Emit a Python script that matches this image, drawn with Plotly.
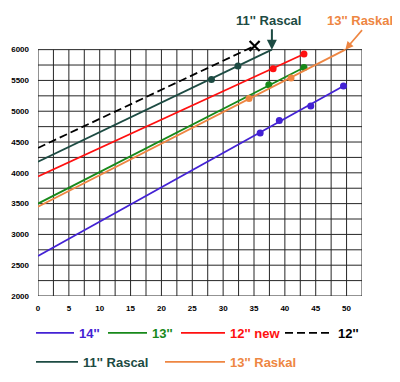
import plotly.graph_objects as go

# ---- data ----
series_names = ["14''", "13''", "12'' new", "12''", "11'' Rascal", "13'' Raskal"]

s14_line_x = [0, 49.5]
s14_line_y = [2650, 5410]
s14_pts_x = [36.0, 39.1, 44.2, 49.5]
s14_pts_y = [4645, 4850, 5085, 5410]

s13_line_x = [0, 43.1]
s13_line_y = [3500, 5710]
s13_pts_x = [37.4, 43.1]
s13_pts_y = [5430, 5710]

s12new_line_x = [0, 43.1]
s12new_line_y = [3940, 5930]
s12new_pts_x = [38.1, 43.1]
s12new_pts_y = [5690, 5930]

s12_line_x = [0, 35.1]
s12_line_y = [4405, 6060]
s12_pts_x = [35.1]
s12_pts_y = [6060]

s11r_line_x = [0, 37.9]
s11r_line_y = [4180, 6000]
s11r_pts_x = [28.1, 32.4]
s11r_pts_y = [5515, 5735]

s13r_line_x = [0, 49.8]
s13r_line_y = [3450, 6000]
s13r_pts_x = [34.2, 41.0]
s13r_pts_y = [5205, 5540]

x_tick_vals = [0, 5, 10, 15, 20, 25, 30, 35, 40, 45, 50]
x_tick_text = ["0", "5", "10", "15", "20", "25", "30", "35", "40", "45", "50"]
y_tick_vals = [2000, 2500, 3000, 3500, 4000, 4500, 5000, 5500, 6000]
y_tick_text = ["2000", "2500", "3000", "3500", "4000", "4500", "5000", "5500", "6000"]

# ---- styles ----
C14 = "#4322d4"
C13 = "#17891a"
C12N = "#ff1010"
C12 = "#000000"
C11R = "#1d4b43"
C13R = "#ee8642"
FONT = "Arial, Liberation Sans, sans-serif"

W, H = 384, 366
X_MIN, X_MAX, X_STEP = 0, 52.5, 2.5
Y_MIN, Y_MAX, Y_STEP = 2000, 6000, 250

fig = go.Figure()

def colored(name, color):
    return f"<span style='color:{color}'>{name}</span>"

def add_series(lx, ly, px, py, name, color, legend, dash="solid", symbol="circle", msize=7):
    fig.add_trace(go.Scatter(x=lx, y=ly, mode="lines", name=colored(name, color),
                             line=dict(color=color, width=1.8, dash=dash),
                             legend=legend, hoverinfo="skip"))
    if symbol == "circle":
        mk = dict(color=color, size=msize, symbol=symbol)
    else:
        mk = dict(color=color, size=msize, symbol=symbol, line=dict(color=color, width=2.2))
    fig.add_trace(go.Scatter(x=px, y=py, mode="markers", showlegend=False,
                             marker=mk, cliponaxis=False, hoverinfo="skip"))

add_series(s14_line_x, s14_line_y, s14_pts_x, s14_pts_y, series_names[0], C14, "legend")
add_series(s13_line_x, s13_line_y, s13_pts_x, s13_pts_y, series_names[1], C13, "legend2")
add_series(s12new_line_x, s12new_line_y, s12new_pts_x, s12new_pts_y, series_names[2], C12N, "legend3")
add_series(s12_line_x, s12_line_y, s12_pts_x, s12_pts_y, series_names[3], C12, "legend4",
           dash="8px,4px", symbol="x-thin", msize=10)
add_series(s11r_line_x, s11r_line_y, s11r_pts_x, s11r_pts_y, series_names[4], C11R, "legend5")
add_series(s13r_line_x, s13r_line_y, s13r_pts_x, s13r_pts_y, series_names[5], C13R, "legend6")

# grid as shapes (box only up to 6000)
shapes = []
n_x = int(round((X_MAX - X_MIN) / X_STEP))
for i in range(n_x + 1):
    xv = X_MIN + i * X_STEP
    shapes.append(dict(type="line", xref="x", yref="y", x0=xv, x1=xv, y0=Y_MIN, y1=Y_MAX,
                       line=dict(color="#262626", width=1), layer="below"))
n_y = int(round((Y_MAX - Y_MIN) / Y_STEP))
for j in range(n_y + 1):
    yv = Y_MIN + j * Y_STEP
    shapes.append(dict(type="line", xref="x", yref="y", x0=X_MIN, x1=X_MAX, y0=yv, y1=yv,
                       line=dict(color="#262626", width=1), layer="below"))

annotations = [
    dict(xref="paper", yref="paper", x=0.71, y=1.015, text="11'' Rascal", showarrow=False,
         font=dict(family=FONT, size=13, color=C11R, weight="bold"), xanchor="center", yanchor="middle"),
    dict(xref="paper", yref="paper", x=0.995, y=1.015, text="13'' Raskal", showarrow=False,
         font=dict(family=FONT, size=13, color=C13R, weight="bold"), xanchor="center", yanchor="middle"),
    dict(xref="x", yref="y", x=s11r_line_x[-1], y=s11r_line_y[-1], text="", showarrow=True,
         ax=0, ay=-22, arrowhead=2, arrowsize=1, arrowwidth=2, arrowcolor=C11R),
    dict(xref="x", yref="y", x=s13r_line_x[-1], y=s13r_line_y[-1], text="", showarrow=True,
         ax=18, ay=-21, arrowhead=2, arrowsize=1, arrowwidth=1.6, arrowcolor=C13R),
]

def leg(px, py, iw):
    return dict(orientation="h", xref="container", yref="container",
                x=px / W, y=1 - py / H, xanchor="left", yanchor="top",
                itemwidth=iw, bgcolor="rgba(0,0,0,0)",
                font=dict(family=FONT, size=13, weight="bold"))

ROW1, ROW2 = 310, 339

fig.update_layout(
    width=W, height=H,
    margin=dict(l=30, r=30, t=17, b=78),
    paper_bgcolor="white", plot_bgcolor="white",
    font=dict(family=FONT, color="black"),
    shapes=shapes, annotations=annotations,
    xaxis=dict(range=[X_MIN, X_MAX], tickvals=x_tick_vals, ticktext=x_tick_text,
               showgrid=False, zeroline=False, showline=False, ticks="", automargin=False,
               tickfont=dict(family=FONT, size=8, color="black", weight="bold"),
               ticklabelstandoff=6),
    yaxis=dict(range=[2000, 6400], tickvals=y_tick_vals, ticktext=y_tick_text,
               showgrid=False, zeroline=False, showline=False, ticks="", automargin=False,
               tickfont=dict(family=FONT, size=8, color="black", weight="bold"),
               ticklabelstandoff=8),
    legend=leg(23, ROW1, 38),
    legend2=leg(95, ROW1, 39),
    legend3=leg(168, ROW1, 44),
    legend4=leg(272, ROW1, 48),
    legend5=leg(23, ROW2, 42),
    legend6=leg(152, ROW2, 60),
    showlegend=True,
)

fig.write_html("out.html")
